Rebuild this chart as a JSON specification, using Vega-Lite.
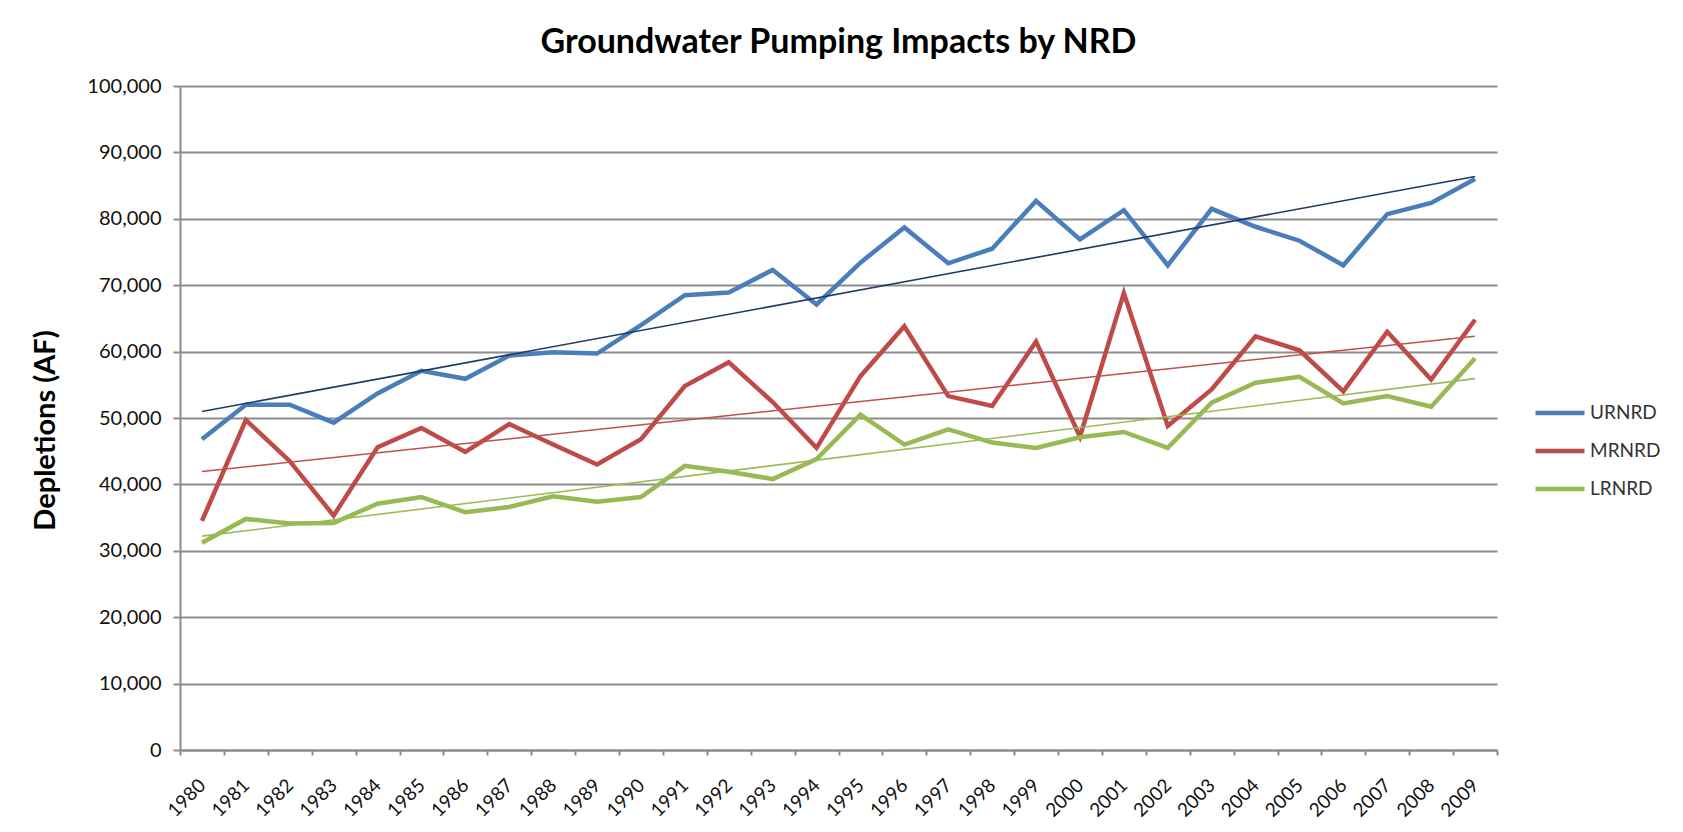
{
  "$schema": "https://vega.github.io/schema/vega-lite/v6.json",
  "width": 1317,
  "height": 664,
  "autosize": {"type": "none"},
  "padding": {"left": 180, "top": 86, "right": 186, "bottom": 82},
  "background": "white",
  "config": {"font": "Lato", "view": {"stroke": null}},
  "title": {"text": "Groundwater Pumping Impacts by NRD", "fontSize": 34, "fontWeight": "bold", "font": "Lato", "color": "#000000", "anchor": "middle", "offset": 16},
  "data": {"values": [
    {"year": 1980, "series": "URNRD", "value": 46800},
    {"year": 1981, "series": "URNRD", "value": 52000},
    {"year": 1982, "series": "URNRD", "value": 52000},
    {"year": 1983, "series": "URNRD", "value": 49300},
    {"year": 1984, "series": "URNRD", "value": 53700},
    {"year": 1985, "series": "URNRD", "value": 57100},
    {"year": 1986, "series": "URNRD", "value": 55900},
    {"year": 1987, "series": "URNRD", "value": 59400},
    {"year": 1988, "series": "URNRD", "value": 59900},
    {"year": 1989, "series": "URNRD", "value": 59700},
    {"year": 1990, "series": "URNRD", "value": 64000},
    {"year": 1991, "series": "URNRD", "value": 68500},
    {"year": 1992, "series": "URNRD", "value": 68900},
    {"year": 1993, "series": "URNRD", "value": 72300},
    {"year": 1994, "series": "URNRD", "value": 67100},
    {"year": 1995, "series": "URNRD", "value": 73400},
    {"year": 1996, "series": "URNRD", "value": 78700},
    {"year": 1997, "series": "URNRD", "value": 73300},
    {"year": 1998, "series": "URNRD", "value": 75500},
    {"year": 1999, "series": "URNRD", "value": 82700},
    {"year": 2000, "series": "URNRD", "value": 76900},
    {"year": 2001, "series": "URNRD", "value": 81300},
    {"year": 2002, "series": "URNRD", "value": 73000},
    {"year": 2003, "series": "URNRD", "value": 81500},
    {"year": 2004, "series": "URNRD", "value": 78800},
    {"year": 2005, "series": "URNRD", "value": 76700},
    {"year": 2006, "series": "URNRD", "value": 73000},
    {"year": 2007, "series": "URNRD", "value": 80700},
    {"year": 2008, "series": "URNRD", "value": 82400},
    {"year": 2009, "series": "URNRD", "value": 86000},
    {"year": 1980, "series": "MRNRD", "value": 34500},
    {"year": 1981, "series": "MRNRD", "value": 49700},
    {"year": 1982, "series": "MRNRD", "value": 43500},
    {"year": 1983, "series": "MRNRD", "value": 35300},
    {"year": 1984, "series": "MRNRD", "value": 45600},
    {"year": 1985, "series": "MRNRD", "value": 48500},
    {"year": 1986, "series": "MRNRD", "value": 44900},
    {"year": 1987, "series": "MRNRD", "value": 49100},
    {"year": 1988, "series": "MRNRD", "value": 46000},
    {"year": 1989, "series": "MRNRD", "value": 43000},
    {"year": 1990, "series": "MRNRD", "value": 46800},
    {"year": 1991, "series": "MRNRD", "value": 54800},
    {"year": 1992, "series": "MRNRD", "value": 58400},
    {"year": 1993, "series": "MRNRD", "value": 52400},
    {"year": 1994, "series": "MRNRD", "value": 45500},
    {"year": 1995, "series": "MRNRD", "value": 56300},
    {"year": 1996, "series": "MRNRD", "value": 63800},
    {"year": 1997, "series": "MRNRD", "value": 53300},
    {"year": 1998, "series": "MRNRD", "value": 51800},
    {"year": 1999, "series": "MRNRD", "value": 61500},
    {"year": 2000, "series": "MRNRD", "value": 47200},
    {"year": 2001, "series": "MRNRD", "value": 68800},
    {"year": 2002, "series": "MRNRD", "value": 48800},
    {"year": 2003, "series": "MRNRD", "value": 54300},
    {"year": 2004, "series": "MRNRD", "value": 62300},
    {"year": 2005, "series": "MRNRD", "value": 60200},
    {"year": 2006, "series": "MRNRD", "value": 54000},
    {"year": 2007, "series": "MRNRD", "value": 63000},
    {"year": 2008, "series": "MRNRD", "value": 55800},
    {"year": 2009, "series": "MRNRD", "value": 64800},
    {"year": 1980, "series": "LRNRD", "value": 31200},
    {"year": 1981, "series": "LRNRD", "value": 34800},
    {"year": 1982, "series": "LRNRD", "value": 34100},
    {"year": 1983, "series": "LRNRD", "value": 34200},
    {"year": 1984, "series": "LRNRD", "value": 37100},
    {"year": 1985, "series": "LRNRD", "value": 38100},
    {"year": 1986, "series": "LRNRD", "value": 35800},
    {"year": 1987, "series": "LRNRD", "value": 36600},
    {"year": 1988, "series": "LRNRD", "value": 38200},
    {"year": 1989, "series": "LRNRD", "value": 37400},
    {"year": 1990, "series": "LRNRD", "value": 38100},
    {"year": 1991, "series": "LRNRD", "value": 42800},
    {"year": 1992, "series": "LRNRD", "value": 41900},
    {"year": 1993, "series": "LRNRD", "value": 40800},
    {"year": 1994, "series": "LRNRD", "value": 43800},
    {"year": 1995, "series": "LRNRD", "value": 50500},
    {"year": 1996, "series": "LRNRD", "value": 46000},
    {"year": 1997, "series": "LRNRD", "value": 48300},
    {"year": 1998, "series": "LRNRD", "value": 46300},
    {"year": 1999, "series": "LRNRD", "value": 45500},
    {"year": 2000, "series": "LRNRD", "value": 47100},
    {"year": 2001, "series": "LRNRD", "value": 47900},
    {"year": 2002, "series": "LRNRD", "value": 45500},
    {"year": 2003, "series": "LRNRD", "value": 52300},
    {"year": 2004, "series": "LRNRD", "value": 55300},
    {"year": 2005, "series": "LRNRD", "value": 56200},
    {"year": 2006, "series": "LRNRD", "value": 52200},
    {"year": 2007, "series": "LRNRD", "value": 53300},
    {"year": 2008, "series": "LRNRD", "value": 51700},
    {"year": 2009, "series": "LRNRD", "value": 59000}
  ]},
  "layer": [
    {
      "mark": {"type": "line", "strokeWidth": 4.5},
      "encoding": {
        "x": {
          "field": "year", "type": "ordinal",
          "scale": {"type": "band", "paddingInner": 0, "paddingOuter": 0},
          "axis": {
            "title": null, "labelAngle": -45, "labelAlign": "right", "labelBaseline": "middle",
            "labelPadding": 27, "labelFontSize": 19, "labelColor": "#111111",
            "tickBand": "extent", "tickSize": 5, "tickColor": "#8c8c8c", "tickWidth": 2,
            "domainColor": "#8c8c8c", "domainWidth": 2, "grid": false
          }
        },
        "y": {
          "field": "value", "type": "quantitative",
          "scale": {"domain": [0, 100000], "nice": false},
          "axis": {
            "title": "Depletions (AF)", "titleFontSize": 29, "titleFontWeight": "bold", "titleColor": "#000000",
            "titleX": -135, "titleY": 344, "titleAngle": -90, "titleAlign": "center", "titleBaseline": "middle",
            "values": [0, 10000, 20000, 30000, 40000, 50000, 60000, 70000, 80000, 90000, 100000],
            "format": ",.0f", "labelFontSize": 20, "labelPadding": 12, "labelColor": "#111111",
            "tickSize": 7, "tickColor": "#8c8c8c", "tickWidth": 2,
            "domainColor": "#8c8c8c", "domainWidth": 2,
            "grid": true, "gridColor": "#8c8c8c", "gridWidth": 2
          }
        },
        "color": {
          "field": "series", "type": "nominal",
          "scale": {"domain": ["URNRD", "MRNRD", "LRNRD"], "range": ["#4A7EBB", "#BE4B48", "#98B954"]},
          "legend": {
            "title": null, "orient": "none", "legendX": 1353, "legendY": 308,
            "symbolType": "stroke", "symbolSize": 2400, "symbolStrokeWidth": 4.5,
            "labelFontSize": 19, "labelColor": "#333333", "labelOffset": 3,
            "rowPadding": 0, "clipHeight": 38, "padding": 0
          }
        }
      }
    },
    {
      "transform": [{"regression": "value", "on": "year", "groupby": ["series"]}],
      "mark": {"type": "line", "strokeWidth": 1.6},
      "encoding": {
        "x": {"field": "year", "type": "ordinal"},
        "y": {"field": "value", "type": "quantitative"},
        "color": {
          "field": "series", "type": "nominal",
          "scale": {"domain": ["URNRD", "MRNRD", "LRNRD"], "range": ["#1F3A64", "#C0504D", "#9BBB59"]},
          "legend": null
        }
      }
    }
  ],
  "resolve": {"scale": {"color": "independent"}}
}
